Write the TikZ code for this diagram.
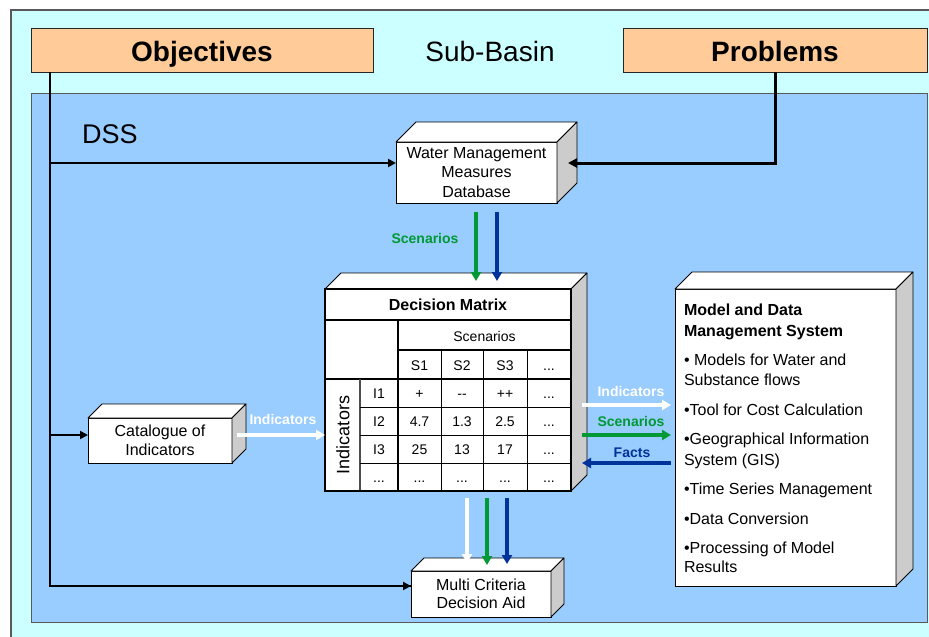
\documentclass[tikz,border=0pt]{standalone}
\usepackage{fontspec}
\setmainfont{Liberation Sans}
\usetikzlibrary{arrows.meta,calc}
\definecolor{cyanbg}{HTML}{CCFFFF}
\definecolor{dssblue}{HTML}{99CCFF}
\definecolor{peach}{HTML}{FFCC99}
\definecolor{agreen}{HTML}{009933}
\definecolor{ablue}{HTML}{003399}
\definecolor{face}{HTML}{CCCCCC}
\newcommand\fsz[2]{\fontsize{#1}{#2}\selectfont}
\newcommand\drawcube[2]{%
  \draw[fill=white,line width=0.8pt,line join=round] (#1.north west) -- ++(#2,-#2) -- ($(#1.north east)+(#2,-#2)$) -- (#1.north east) -- cycle;
  \draw[fill=face,line width=0.8pt,line join=round] (#1.north east) -- ++(#2,-#2) -- ($(#1.south east)+(#2,-#2)$) -- (#1.south east) -- cycle;
}
\tikzset{
  every node/.style={outer sep=0pt},
  box3/.style={draw=black, fill=white, line width=0.8pt, inner sep=0pt, anchor=north west, align=center, font=\fsz{16}{19.5}},
  peachbox/.style={draw=black!85, fill=peach, line width=1pt, inner sep=0pt, anchor=north west, font=\bfseries\fsz{28}{32}},
  conn/.style={line width=2.2pt, -{Triangle[length=8pt,width=8pt]}},
  fat/.style={line width=3.5pt, -{Triangle[length=9pt,width=10pt]}},
  lbl/.style={font=\bfseries\fsz{14}{16}, inner sep=0pt},
  cell/.style={font=\fsz{14}{16}, inner sep=0pt, text height=10pt, text depth=0pt},
  mtext/.style={anchor=base west, font=\fsz{16}{19}, inner sep=0pt},
  thk/.style={line width=2.5pt},
  thn/.style={line width=0.8pt},
}
\begin{document}
\begin{tikzpicture}[x=1pt,y=-1pt]
\useasboundingbox (0,0) rectangle (929,637);
\clip (0,0) rectangle (929,637);
\fill[white] (0,0) rectangle (929,637);
\draw[fill=cyanbg, draw=gray!70!black, line width=1.2pt] (11,10) rectangle (960,660);

% top row
\node[peachbox, minimum width=342pt, minimum height=44pt] (obj) at (31,28) {};
\node[font=\bfseries\fsz{28}{32}, inner sep=0pt, text height=20pt, text depth=0pt] (objt) at ($(obj.center)+(0,1.5)$) {Objectives};
\node[peachbox, minimum width=304pt, minimum height=44pt] (prob) at (623,28) {};
\node[font=\bfseries\fsz{28}{32}, inner sep=0pt, text height=20pt, text depth=0pt] (probt) at ($(prob.center)+(0,1.5)$) {Problems};
\node[font=\fsz{28}{32}, inner sep=0pt, text height=20pt, text depth=0pt] (sb) at (490,51) {Sub-Basin};

% DSS area
\node[draw=gray!70!black, fill=dssblue, line width=1pt, anchor=north west, inner sep=0pt, minimum width=896pt, minimum height=529pt] (dssbox) at (31,93) {};
\node[font=\fsz{27}{32}, inner sep=0pt, text height=19pt, text depth=0pt] (dss) at (110,134) {DSS};

% 3D boxes
\node[box3, minimum width=161pt, minimum height=61pt] (wmm) at (396,142) {Water Management\\Measures\\Database};
\drawcube{wmm}{20}
\node[box3, minimum width=144pt, minimum height=45pt] (cat) at (88,418) {Catalogue of\\Indicators};
\drawcube{cat}{14}
\node[box3, minimum width=140pt, minimum height=46pt, font=\fsz{16}{18.5}] (mcda) at (411,571) {Multi Criteria\\Decision Aid};
\drawcube{mcda}{13}
\node[box3, minimum width=221pt, minimum height=297pt] (mdms) at (675,289) {};
\drawcube{mdms}{17}

% decision matrix
\node[draw=black, fill=white, line width=0.8pt, inner sep=0pt, anchor=north west, minimum width=246pt, minimum height=202pt] (dm) at (325,289) {};
\drawcube{dm}{16}
\draw[thk] (325,320) -- (571,320);
\draw[thk] (398,350) -- (571,350);
\draw[thk] (325,379) -- (571,379);
\draw[thk] (398,320) -- (398,491);
\draw[line width=2pt, gray!60!black] (360,379) -- (360,491);
\foreach \yy in {407,435,463} \draw[thn] (360,\yy) -- (571,\yy);
\foreach \xx in {441,483,527} \draw[thn] (\xx,350) -- (\xx,491);
\draw[line width=2.8pt] (dm.north west) rectangle (dm.south east);

\node[font=\bfseries\fsz{16}{18}, inner sep=0pt, text height=11.5pt, text depth=0pt] (dmt) at (448,305) {Decision Matrix};
\node[cell] (scn) at (484.5,336) {Scenarios};
\node[cell] (s1) at (419.5,365) {S1};
\node[cell] (s2) at (462,365) {S2};
\node[cell] (s3) at (505,365) {S3};
\node[cell] (s4) at (549,365) {...};
\node[font=\fsz{18}{20}, inner sep=0pt, rotate=90] (ind) at (343,435) {Indicators};
\node[cell] (i1) at (379,393) {I1};
\node[cell] (i1a) at (419.5,393) {+};
\node[cell] (i1b) at (462,393) {-{}-};
\node[cell] (i1c) at (505,393) {++};
\node[cell] (i1d) at (549,393) {...};
\node[cell] (i2) at (379,421) {I2};
\node[cell] (i2a) at (419.5,421) {4.7};
\node[cell] (i2b) at (462,421) {1.3};
\node[cell] (i2c) at (505,421) {2.5};
\node[cell] (i2d) at (549,421) {...};
\node[cell] (i3) at (379,449) {I3};
\node[cell] (i3a) at (419.5,449) {25};
\node[cell] (i3b) at (462,449) {13};
\node[cell] (i3c) at (505,449) {17};
\node[cell] (i3d) at (549,449) {...};
\node[cell] (i4) at (379,477) {...};
\node[cell] (i4a) at (419.5,477) {...};
\node[cell] (i4b) at (462,477) {...};
\node[cell] (i4c) at (505,477) {...};
\node[cell] (i4d) at (549,477) {...};

% MDMS text
\node[mtext, font=\bfseries\fsz{16}{19}] (m1) at (684,315) {Model and Data};
\node[mtext, font=\bfseries\fsz{16}{19}] (m2) at (684,336) {Management System};
\node[mtext] (m3) at (684,365) {• Models for Water and};
\node[mtext] (m4) at (684,385) {Substance flows};
\node[mtext] (m5) at (684,415) {•Tool for Cost Calculation};
\node[mtext] (m6) at (684,444) {•Geographical Information};
\node[mtext] (m7) at (684,465) {System (GIS)};
\node[mtext] (m8) at (684,494) {•Time Series Management};
\node[mtext] (m9) at (684,524) {•Data Conversion};
\node[mtext] (m10) at (684,553) {•Processing of Model};
\node[mtext] (m11) at (684,572) {Results};

% black connectors
\coordinate (objfoot) at ($(obj.south west)+(19,0)$);
\coordinate (j1) at ($(wmm.west)+(0,-9.5)$);
\coordinate (j2) at ($(cat.west)+(0,-5.5)$);
\coordinate (j3) at ($(mcda.west)+(0,-8)$);
\draw[line width=2.2pt] (objfoot) |- (j3);
\draw[conn] (objfoot |- j1) -- (j1);
\draw[conn] (objfoot |- j2) -- (j2);
\draw[conn] (objfoot |- j3) -- (j3);
\coordinate (probfoot) at ($(prob.south west)+(152,0)$);
\coordinate (pj) at ($(wmm.east)+(11,-9.5)$);
\draw[line width=3pt, -{Triangle[length=9pt,width=9pt]}] (probfoot) |- (pj);

% coloured arrows
\coordinate (ta1) at (476,212); \coordinate (tb1) at (476,281);
\coordinate (ta2) at (497,212); \coordinate (tb2) at (497,281);
\draw[fat, agreen] (ta1) -- (tb1);
\draw[fat, ablue] (ta2) -- (tb2);
\node[lbl, text=agreen] (lsc1) at (425,238) {Scenarios};

\coordinate (ca) at (237,435);
\draw[fat, white] (ca) -- (dm.west |- ca);
\node[lbl, text=white] (lin1) at (283,419) {Indicators};

\coordinate (ra1) at (582,405); \coordinate (rb1) at (671,405);
\coordinate (ra2) at (582,435); \coordinate (rb2) at (671,435);
\coordinate (ra3) at (582,463); \coordinate (rb3) at (671,463);
\draw[fat, white] (ra1) -- (rb1);
\draw[fat, agreen] (ra2) -- (rb2);
\draw[fat, ablue] (rb3) -- (ra3);
\node[lbl, text=white] (lin2) at (631,391) {Indicators};
\node[lbl, text=agreen] (lsc2) at (631,421) {Scenarios};
\node[lbl, text=ablue] (lf) at (632,453) {Facts};

\coordinate (ba1) at (467,498); \coordinate (bb1) at (467,563);
\coordinate (ba2) at (487,498); \coordinate (bb2) at (487,565);
\coordinate (ba3) at (507,498); \coordinate (bb3) at (507,564);
\draw[fat, white] (ba1) -- (bb1);
\draw[fat, agreen] (ba2) -- (bb2);
\draw[fat, ablue] (ba3) -- (bb3);
\end{tikzpicture}
\end{document}
